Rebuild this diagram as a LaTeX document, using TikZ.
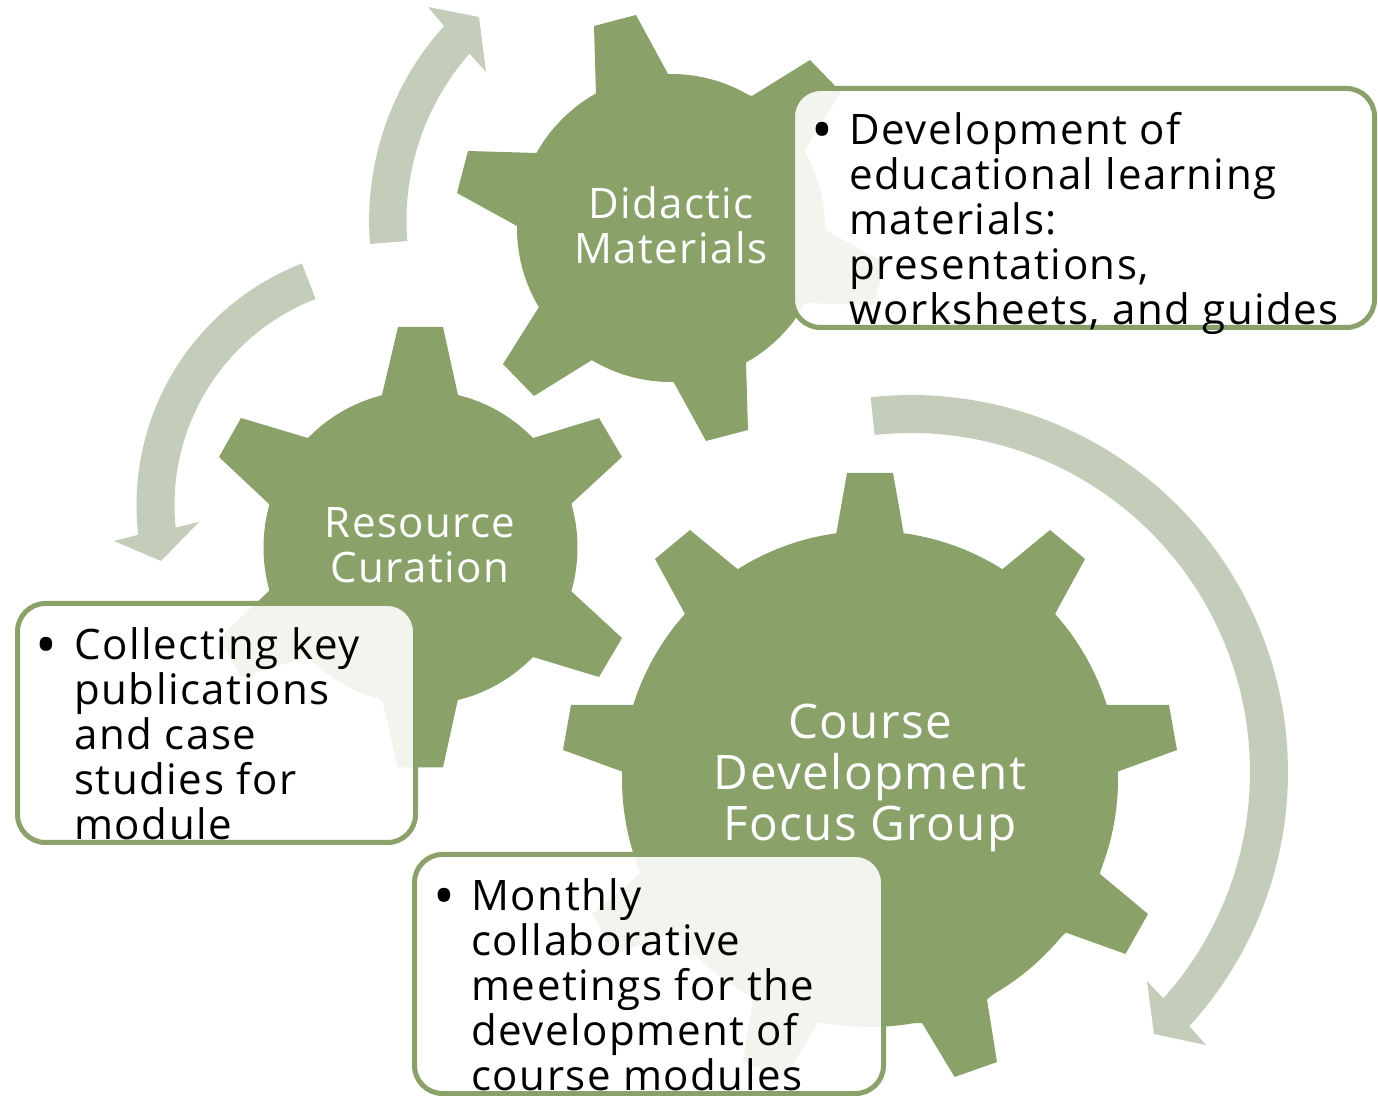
\documentclass[tikz,border=0pt]{standalone}
\usepackage{fontspec}
\setmainfont{Open Sans}
\definecolor{gearc}{RGB}{138,161,106}
\definecolor{arrowc}{RGB}{196,205,186}
\newcommand{\boxfont}{\fontsize{21}{22.5}\selectfont\addfontfeature{LetterSpace=3.6}}
\newcommand{\bulletfont}{\fontsize{29}{30}\selectfont}
\newcommand{\smallgearfont}{\fontsize{21}{22.3}\selectfont\addfontfeature{LetterSpace=3.4}}
\newcommand{\biggearfont}{\fontsize{23.8}{25.6}\selectfont\addfontfeature{LetterSpace=3}}
\tikzset{
  x=0.5pt,y=-0.5pt,
  gearshape/.style={fill=gearc,draw=none},
  arrowshape/.style={fill=arrowc,draw=none},
  notebox/.style={draw=gearc,line width=2.5pt,fill=white,fill opacity=0.89,draw opacity=1,rounded corners=14pt},
  gearlabel/.style={text=white,align=center,inner sep=0pt},
  notetext/.style={text=black,align=left,inner sep=0pt,anchor=north west,font=\boxfont},
  bullet/.style={text=black,inner sep=0pt,font=\bulletfont},
}
\begin{document}
\begin{tikzpicture}
\useasboundingbox (0,0) rectangle (1378,1096);
% arrows
\fill[arrowshape] plot[domain=175.4:222.1,samples=40] ({659.5+290.4*cos(\x)},{220.7+290.4*sin(\x)})
  -- (428,7) -- (479,17) -- (486,72) -- (469,53)
  -- plot[domain=221.4:175.4,samples=40] ({659.5+253*cos(\x)},{220.7+253*sin(\x)}) -- cycle;
\fill[arrowshape] plot[domain=-111.2:-186.6,samples=50] ({395.5+259*cos(\x)},{505+259*sin(\x)})
  -- (114,541) -- (161,561) -- (199,522) -- (175.5,527.6)
  -- plot[domain=-185.9:-111.2,samples=50] ({395.5+221*cos(\x)},{505+221*sin(\x)}) -- cycle;
\fill[arrowshape] plot[domain=-96.15:42.4,samples=90] ({911+377*cos(\x)},{772+377*sin(\x)})
  -- (1206,1045) -- (1154,1034) -- (1147,981) -- (1163,998)
  -- plot[domain=41.9:-96.15,samples=90] ({911+339*cos(\x)},{772+339*sin(\x)}) -- cycle;
% didactic gear
\fill[gearshape] (671,228) circle[radius=77pt];
\fill[gearshape] (594,26) -- (636,15) -- (668,74) -- (752,96) -- (810,60) -- (841,92) -- (805,149)
  -- (825,230) -- (885,263) -- (874,305) -- (805,303) -- (746,362) -- (748,430) -- (706,441)
  -- (673,381) -- (592,360) -- (534,396) -- (503,364) -- (539,307) -- (517,226) -- (457,193)
  -- (468,151) -- (537,153) -- (596,94) -- cycle;
% resource gear
\fill[gearshape] (420.5,547.5) circle[radius=78.5pt];
\fill[gearshape] (382,395) -- (398,327) -- (443,327) -- (458,395) -- (533,438) -- (599,418)
  -- (622,457) -- (571,504) -- (571,591) -- (622,638) -- (599,677) -- (533,657) -- (458,699)
  -- (443,767.5) -- (398,767.5) -- (382,699) -- (308,657) -- (241,677) -- (219,638) -- (269,591)
  -- (269,504) -- (219,457) -- (241,418) -- (308,438) -- cycle;
% course gear
\fill[gearshape] (870,779) circle[radius=124pt];
\fill[gearshape] (836,535) -- (847,473) -- (893,473) -- (904,535) -- (1002,569.5) -- (1050,530)
  -- (1085,559) -- (1055,614) -- (1106,705) -- (1169,705) -- (1177,750) -- (1118,771.5)
  -- (1100,874) -- (1148,914) -- (1125.5,954) -- (1066,932.6) -- (987,999.5) -- (997,1062)
  -- (954.6,1077) -- (922,1023) -- (818,1023) -- (785,1077) -- (743,1062) -- (753,999.5)
  -- (674,932.6) -- (614.5,954) -- (592,914) -- (640,874) -- (622,771.5) -- (563,750)
  -- (571,705) -- (634,705) -- (685,614) -- (655,559) -- (690,530) -- (738,569.5) -- cycle;
% gear labels
\node[gearlabel,font=\smallgearfont] (didactic) at (671,225.5) {Didactic\\Materials};
\node[gearlabel,font=\smallgearfont] (resource) at (420,545) {Resource\\Curation};
\node[gearlabel,font=\biggearfont] (course) at (870,778) {Course\\Development\\Focus Group};
% note boxes
\node[notebox,minimum width=291pt,minimum height=119.5pt,inner sep=0pt] (boxa) at (1083.5,208) {};
\node[notebox,minimum width=199pt,minimum height=119.5pt,inner sep=0pt] (boxb) at (216.5,723) {};
\node[notebox,minimum width=234.5pt,minimum height=119.5pt,inner sep=0pt] (boxc) at (649,974) {};
\node[bullet] (bulleta) at (822,136) {•};
\node[notetext] (texta) at (849,112) {Development of\\educational learning\\materials:\\presentations,\\worksheets, and guides};
\node[bullet] (bulletb) at (46,651) {•};
\node[notetext] (textb) at (74,627) {Collecting key\\publications\\and case\\studies for\\module};
\node[bullet] (bulletc) at (444,902) {•};
\node[notetext] (textc) at (471,878) {Monthly\\collaborative\\meetings for the\\development of\\course modules};
\end{tikzpicture}
\end{document}
